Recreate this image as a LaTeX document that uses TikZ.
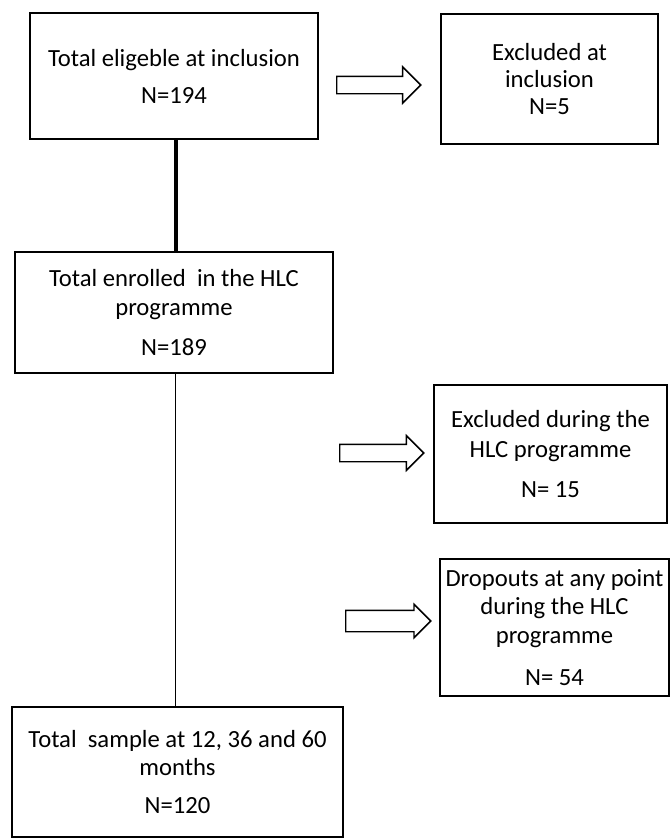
\documentclass[tikz,border=0pt]{standalone}
\usepackage{fontspec}
\setmainfont{Carlito}
\usetikzlibrary{shapes.arrows}

\tikzset{
  flowbox/.style={draw, line width=1.5pt, align=center, inner sep=0pt,
    font=\fontsize{18.5}{22}\selectfont},
  blockarrow/.style={single arrow, draw, line width=1.1pt, inner xsep=0pt,
    inner ysep=6pt, single arrow head extend=7pt, single arrow head indent=0pt,
    anchor=tail, minimum height=#1},
  blockarrow/.default=63pt
}

\begin{document}
\begin{tikzpicture}[x=0.75pt,y=0.75pt,yscale=-1,xscale=1]
\useasboundingbox (0,0) rectangle (670,839);

%Boxes
\node [flowbox, minimum width=216pt, minimum height=94.5pt] (eligible) at (174,76)
  {Total eligeble at inclusion\\[5.75pt]N=194};
\node [flowbox, minimum width=162.75pt, minimum height=97.5pt,
  font=\fontsize{18.5}{20.25}\selectfont] (exclIncl) at (549.5,79)
  {Excluded at\\inclusion\\N=5};
\node [flowbox, minimum width=238.5pt, minimum height=90.75pt] (enrolled) at (174,312.5)
  {Total enrolled\ \ in the HLC\\programme\\[8pt]N=189};
\node [flowbox, minimum width=174.75pt, minimum height=103.5pt] (exclHLC) at (550.5,454)
  {Excluded during the\\HLC programme\\[8pt]N= 15};
\node [flowbox, minimum width=171.75pt, minimum height=102.75pt,
  font=\fontsize{18.5}{21.4}\selectfont] (dropouts) at (554.5,627.5)
  {Dropouts at any point\\during the HLC\\programme\\[10pt]N= 54};
\node [flowbox, minimum width=248.25pt, minimum height=97.5pt,
  font=\fontsize{18.5}{21}\selectfont] (sample) at (177.5,772)
  {Total\ \ sample at 12, 36 and 60\\months\\[7.5pt]N=120};

%Straight Lines
\coordinate (spine) at (175.5,0);
\draw [line width=3pt] (eligible.south -| spine) -- (enrolled.north -| spine);
\draw [line width=0.75pt] (enrolled.south -| spine) -- (sample.north -| spine);

%Block Arrows
\node [blockarrow] (toExclIncl) at (336,85) {};
\node [blockarrow, single arrow head extend=6.5pt] (toExclHLC) at (339,453) {};
\node [blockarrow=63.75pt, inner ysep=7.5pt, single arrow head extend=4.5pt] (toDropouts) at (345,621) {};

\end{tikzpicture}
\end{document}
